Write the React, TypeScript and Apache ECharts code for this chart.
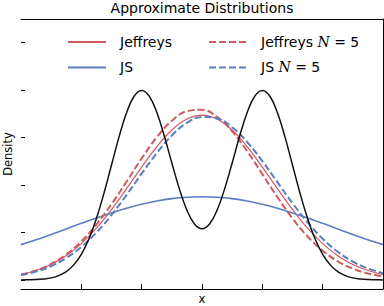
import React, { useEffect, useRef } from "react";
import * as echarts from "echarts";

const TITLE = "Approximate Distributions";
const X_LABEL = "x";
const Y_LABEL = "Density";
const X_TICKS = [-4, -2, 0, 2, 4];
const Y_TICKS = [0, 0.05, 0.1, 0.15, 0.2, 0.25];

const X_FINE = [
  -6, -5.75, -5.5, -5.25, -5, -4.75, -4.5, -4.25, -4, -3.75, -3.5, -3.25, -3,
  -2.75, -2.5, -2.25, -2, -1.75, -1.5, -1.25, -1, -0.75, -0.5, -0.25, 0,
  0.25, 0.5, 0.75, 1, 1.25, 1.5, 1.75, 2, 2.25, 2.5, 2.75, 3, 3.25, 3.5,
  3.75, 4, 4.25, 4.5, 4.75, 5, 5.25, 5.5, 5.75, 6,
];
const TARGET = [
  0.0001, 0.0002, 0.0004, 0.001, 0.0022, 0.0046, 0.0088, 0.0159, 0.027,
  0.0431, 0.0648, 0.0913, 0.121, 0.1506, 0.176, 0.1934, 0.1995, 0.1935,
  0.1765, 0.1516, 0.1232, 0.0959, 0.0735, 0.059, 0.054, 0.059, 0.0735,
  0.0959, 0.1232, 0.1516, 0.1765, 0.1935, 0.1995, 0.1934, 0.176, 0.1506,
  0.121, 0.0913, 0.0648, 0.0431, 0.027, 0.0159, 0.0088, 0.0046, 0.0022,
  0.001, 0.0004, 0.0002, 0.0001,
];

const X_COARSE = [
  -6, -5.5, -5, -4.5, -4, -3.5, -3, -2.5, -2, -1.5, -1, -0.5, 0, 0.5, 1, 1.5,
  2, 2.5, 3, 3.5, 4, 4.5, 5, 5.5, 6,
];
const JEFFREYS = [
  0.00577, 0.00994, 0.01633, 0.02558, 0.03823, 0.05449, 0.07409, 0.09608,
  0.11885, 0.14022, 0.15781, 0.1694, 0.17345, 0.1694, 0.15781, 0.14022,
  0.11885, 0.09608, 0.07409, 0.05449, 0.03823, 0.02558, 0.01633, 0.00994,
  0.00577,
];
const JS = [
  0.0372, 0.04223, 0.04794, 0.05377, 0.05958, 0.06523, 0.07055, 0.0754,
  0.07961, 0.08304, 0.08559, 0.08715, 0.08768, 0.08715, 0.08559, 0.08304,
  0.07961, 0.0754, 0.07055, 0.06523, 0.05958, 0.05377, 0.04794, 0.04223,
  0.0372,
];
const JEFFREYS_N5 = [
  0.00571, 0.01007, 0.01685, 0.02682, 0.04057, 0.05834, 0.07974, 0.1036,
  0.12794, 0.15018, 0.16757, 0.17773, 0.17917, 0.1717, 0.1564, 0.13542,
  0.11145, 0.08718, 0.06483, 0.04582, 0.03079, 0.01966, 0.01194, 0.00689,
  0.00378,
];
const JS_N5 = [
  0.00512, 0.00886, 0.01463, 0.02307, 0.03472, 0.04988, 0.06841, 0.08956,
  0.11193, 0.13353, 0.15208, 0.16534, 0.1716, 0.17001, 0.1608, 0.14518,
  0.12513, 0.10295, 0.08086, 0.06063, 0.04339, 0.02965, 0.01934, 0.01204,
  0.00716,
];

const NAMES = ["Jeffreys", "JS", "Jeffreys N = 5", "JS N = 5"];
const RED = "#cf5b5f";
const BLUE = "#5a7ec0";
const FONT = "DejaVu Sans";

const zip = (xs: number[], ys: number[]) => xs.map((x, i) => [x, ys[i]]);

export default function App() {
  const ref = useRef<HTMLDivElement>(null);
  useEffect(() => {
    if (!ref.current) return;
    const chart = echarts.init(ref.current, undefined, { renderer: "svg" });
    const legendText = {
      fontSize: 14,
      fontFamily: FONT,
      color: "#000",
      lineHeight: 16,
      padding: [0, 0, 0, 9],
      rich: {
        i: { fontFamily: "DejaVu Serif", fontStyle: "italic", fontSize: 14 },
      },
    };
    const fmt = (name: string) => name.replace(" N ", " {i|N} ");
    const legendBase = {
      orient: "vertical",
      top: 34,
      padding: 0,
      itemWidth: 38,
      itemHeight: 14,
      itemGap: 9.4,
      textStyle: legendText,
      formatter: fmt,
      itemStyle: { opacity: 0 },
    };
    chart.setOption({
      animation: false,
      backgroundColor: "#fff",
      title: {
        text: TITLE,
        left: 202,
        textAlign: "center",
        top: 1,
        padding: 0,
        textStyle: { fontSize: 14, fontWeight: "normal", fontFamily: FONT, color: "#000" },
      },
      legend: [
        { ...legendBase, data: [NAMES[0], NAMES[1]], left: 67 },
        { ...legendBase, data: [NAMES[2], NAMES[3]], left: 208 },
      ],
      grid: {
        left: 21,
        right: 1,
        top: 19,
        bottom: 17,
        containLabel: false,
        outerBoundsMode: "none",
      },
      xAxis: [
        {
          type: "value",
          min: -6,
          max: 6,
          name: X_LABEL,
          nameLocation: "middle",
          nameGap: 5,
          nameTextStyle: { fontSize: 11.5, lineHeight: 10, fontFamily: FONT, color: "#000" },
          axisLine: { show: true, onZero: false, lineStyle: { color: "#000", width: 1 } },
          axisTick: { show: true, inside: true, length: 5, customValues: X_TICKS, lineStyle: { color: "#000" } },
          axisLabel: { show: false },
          splitLine: { show: false },
        },
        {
          type: "value",
          position: "top",
          min: -6,
          max: 6,
          axisLine: { show: true, onZero: false, lineStyle: { color: "#000", width: 1 } },
          axisTick: { show: false },
          axisLabel: { show: false },
          splitLine: { show: false },
        },
      ],
      yAxis: [
        {
          type: "value",
          min: -0.0095,
          max: 0.2747,
          name: Y_LABEL,
          nameLocation: "middle",
          nameGap: 7,
          nameTextStyle: { fontSize: 11.5, fontFamily: FONT, color: "#000" },
          axisLine: { show: false, onZero: false },
          axisTick: { show: true, inside: true, length: 4, customValues: Y_TICKS, lineStyle: { color: "#000" } },
          axisLabel: { show: false },
          splitLine: { show: false },
        },
        {
          type: "value",
          position: "right",
          min: -0.0095,
          max: 0.2747,
          axisLine: { show: true, onZero: false, lineStyle: { color: "#000", width: 1 } },
          axisTick: { show: false },
          axisLabel: { show: false },
          splitLine: { show: false },
        },
      ],
      series: [
        {
          name: NAMES[0],
          type: "line",
          data: zip(X_COARSE, JEFFREYS),
          smooth: 0.4,
          symbol: "none",
          color: RED,
          lineStyle: { color: RED, width: 1.2 },
        },
        {
          name: NAMES[1],
          type: "line",
          data: zip(X_COARSE, JS),
          smooth: 0.4,
          symbol: "none",
          color: BLUE,
          lineStyle: { color: BLUE, width: 1.6 },
        },
        {
          name: NAMES[2],
          type: "line",
          data: zip(X_COARSE, JEFFREYS_N5),
          smooth: 0.4,
          symbol: "none",
          color: RED,
          lineStyle: { color: RED, width: 2, type: [7, 3] },
        },
        {
          name: NAMES[3],
          type: "line",
          data: zip(X_COARSE, JS_N5),
          smooth: 0.4,
          symbol: "none",
          color: BLUE,
          lineStyle: { color: BLUE, width: 2, type: [7, 3] },
        },
        {
          name: "Target",
          type: "line",
          data: zip(X_FINE, TARGET),
          smooth: 0.4,
          symbol: "none",
          color: "#111",
          lineStyle: { color: "#111", width: 1.5 },
          z: 3,
        },
      ],
    });
    return () => chart.dispose();
  }, []);
  return (
    <div
      ref={ref}
      style={{ position: "fixed", left: 0, top: 0, width: 384, height: 306 }}
    />
  );
}
